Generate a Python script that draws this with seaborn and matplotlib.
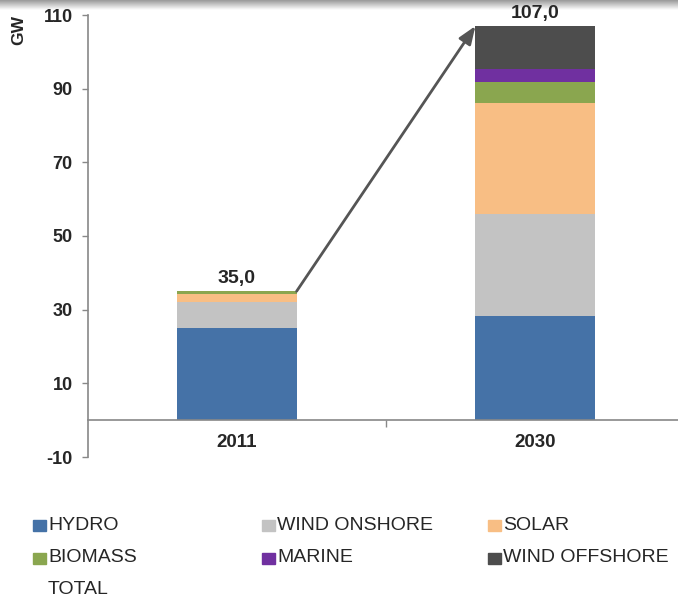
import matplotlib
matplotlib.use("Agg")
import matplotlib.pyplot as plt
import seaborn as sns
import numpy as np
import pandas as pd
from matplotlib.patches import Rectangle

years = ["2011", "2030"]
series = ["HYDRO", "WIND ONSHORE", "SOLAR", "BIOMASS", "MARINE", "WIND OFFSHORE"]
hydro = [25.0, 28.2]
wind_onshore = [7.0, 27.9]
solar = [2.2, 30.1]
biomass = [0.8, 5.7]
marine = [0.0, 3.4]
wind_offshore = [0.0, 11.7]
totals = [35.0, 107.0]
total_labels = ["35,0", "107,0"]
yticks = [-10, 10, 30, 50, 70, 90, 110]

colors = ["#4572A7", "#C3C3C3", "#F8BE84", "#8AA64F", "#7030A0", "#4D4D4D"]

sns.set_theme(style="white")
plt.rcParams['font.family'] = ['Liberation Sans', 'DejaVu Sans']

fig = plt.figure(figsize=(6.78, 6.0), dpi=100)
W, H = 678, 600

# slide-style gradient at top (drawn behind everything)
gax = fig.add_axes([0, 1 - 10 / H, 1, 10 / H])
grad = np.linspace(0.6, 1.0, 50).reshape(-1, 1)
gax.imshow(grad, aspect="auto", cmap="gray", vmin=0, vmax=1, extent=[0, 1, 0, 1])
gax.axis("off")
gax.set_zorder(0)

ax = fig.add_axes([88 / W, (H - 457) / H, (684 - 88) / W, (457 - 15) / H])
ax.set_zorder(1)
ax.patch.set_alpha(0)

values = [hydro, wind_onshore, solar, biomass, marine, wind_offshore]
cum = np.cumsum(np.array(values), axis=0)
df = pd.DataFrame({"year": years})
for i in range(len(series) - 1, -1, -1):
    df["v"] = cum[i]
    sns.barplot(data=df, x="year", y="v", color=colors[i], width=0.4,
                saturation=1, ax=ax, edgecolor="none", linewidth=0)

ax.set_ylim(-10, 110)
ax.set_xlim(-0.5, 1.5)
ax.set_yticks(yticks, labels=[str(t) for t in yticks], fontsize=13, fontweight="bold")
ax.set_xticks([0.5], labels=[""])
ax.tick_params(axis="x", length=5, width=1, color="#888888", direction="out", bottom=True)
ax.tick_params(axis="y", length=4, width=1, color="#888888", direction="out", left=True, pad=7)
ax.set_xlabel("")
ax.set_ylabel("")

# category labels below the zero line
for i, yr in enumerate(years):
    ax.annotate(yr, (i, 0), xytext=(0, -16), textcoords="offset points",
                ha="center", va="center", fontsize=13.5, fontweight="bold",
                annotation_clip=False)

for s in ["top", "right"]:
    ax.spines[s].set_visible(False)
ax.spines["left"].set_color("#888888")
ax.spines["bottom"].set_color("#888888")
ax.spines["left"].set_linewidth(1.2)
ax.spines["bottom"].set_linewidth(1.2)
ax.spines["bottom"].set_position(("data", 0))

# total labels
for i, (t, lab) in enumerate(zip(totals, total_labels)):
    ax.annotate(lab, (i, t), xytext=(0, 3), textcoords="offset points",
                ha="center", va="bottom", fontsize=14, fontweight="bold")

# arrow
ax.annotate("", xy=(0.8, totals[1]), xytext=(0.2, totals[0]),
            arrowprops=dict(arrowstyle="-|>,head_length=0.9,head_width=0.35",
                            color="#555555", lw=2.0, shrinkA=0, shrinkB=0))

fig.text(19 / W, 1 - 30 / H, "GW", rotation=90, ha="center", va="center",
         fontsize=12.5, fontweight="bold")

# legend (manual layout, row-major)
leg_items = list(zip(series, colors)) + [("TOTAL", None)]
col_x = [33, 262, 488]
row_y = [525, 558, 590]
for k, (name, c) in enumerate(leg_items):
    r, cidx = divmod(k, 3)
    x, y = col_x[cidx], row_y[r]
    if c is not None:
        fig.patches.append(Rectangle((x / W, 1 - (y + 6) / H), 13 / W, 11 / H,
                                     transform=fig.transFigure, color=c, figure=fig))
    fig.text((x + 15) / W, 1 - y / H, name, ha="left", va="center", fontsize=14)

fig.savefig("out.png", dpi=100)
